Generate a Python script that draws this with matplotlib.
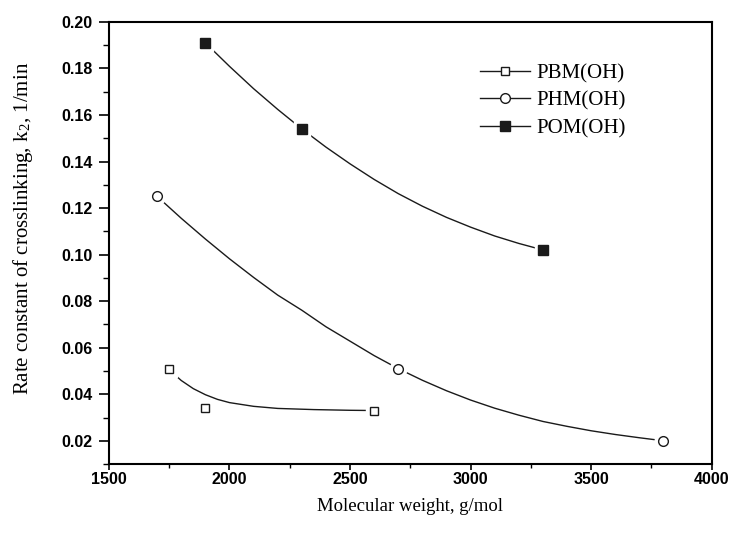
import matplotlib
matplotlib.use('Agg')
import matplotlib.pyplot as plt
from matplotlib.lines import Line2D
from matplotlib.ticker import MultipleLocator, FormatStrFormatter

# measured points
pbm_mw = [1750, 1900, 2600]
pbm_k2 = [0.051, 0.034, 0.033]
phm_mw = [1700, 2700, 3800]
phm_k2 = [0.125, 0.051, 0.020]
pom_mw = [1900, 2300, 3300]
pom_k2 = [0.191, 0.154, 0.102]

# fitted curves
pbm_fit_mw = [1750, 1775, 1800, 1850, 1900, 1950, 2000, 2100, 2200, 2350, 2500, 2600]
pbm_fit_k2 = [0.051, 0.0482, 0.0459, 0.0424, 0.0398, 0.0378, 0.0364, 0.0348, 0.0339,
	0.0334, 0.0331, 0.033]
phm_fit_mw = [1700, 1800, 1900, 2000, 2100, 2200, 2300, 2400, 2500, 2600, 2700,
	2800, 2900, 3000, 3100, 3200, 3300, 3400, 3500, 3600, 3700, 3800]
phm_fit_k2 = [0.125, 0.1156, 0.1067, 0.0982, 0.0902, 0.0826, 0.0761, 0.0690, 0.0628,
	0.0566, 0.051, 0.046, 0.0415, 0.0375, 0.034, 0.031, 0.0283, 0.0262, 0.0243,
	0.0227, 0.0213, 0.020]
pom_fit_mw = [1900, 2000, 2100, 2200, 2300, 2400, 2500, 2600, 2700, 2800, 2900,
	3000, 3100, 3200, 3300]
pom_fit_k2 = [0.191, 0.1809, 0.1713, 0.1624, 0.154, 0.1462, 0.139, 0.1323, 0.1262,
	0.1208, 0.116, 0.1118, 0.108, 0.1048, 0.102]

labels = ['PBM(OH)', 'PHM(OH)', 'POM(OH)']

plt.rcParams['mathtext.fontset'] = 'stix'

fig = plt.figure(figsize=(7.36, 5.34), dpi=100)
ax = fig.add_axes([0.148, 0.131, 0.819, 0.828])

series = [
	(pbm_mw, pbm_k2, pbm_fit_mw, pbm_fit_k2, 's', 'white', 6),
	(phm_mw, phm_k2, phm_fit_mw, phm_fit_k2, 'o', 'white', 7),
	(pom_mw, pom_k2, pom_fit_mw, pom_fit_k2, 's', '#1a1a1a', 6.5),
]
handles = []
for mw, k2, fmw, fk2, mk, fc, ms in series:
	ax.plot(fmw, fk2, color='#1a1a1a', lw=1.0, zorder=2)
	# white halo so the line stops short of the marker
	ax.plot(mw, k2, ls='none', marker=mk, ms=ms + 5, mfc='white', mec='white', zorder=3)
	ax.plot(mw, k2, ls='none', marker=mk, ms=ms, mfc=fc, mec='#1a1a1a', mew=1.0, zorder=4)
	handles.append(Line2D([], [], color='#1a1a1a', lw=1.0, marker=mk, ms=ms, mfc=fc, mec='#1a1a1a'))

leg = ax.legend(handles, labels, loc='upper left', bbox_to_anchor=(0.585, 0.948),
	frameon=False, handlelength=2.4, handletextpad=0.3, labelspacing=0.38,
	prop={'family': 'Liberation Serif', 'size': 15})

ax.set_xlim(1500, 4000)
ax.set_ylim(0.01, 0.20)
ax.xaxis.set_major_locator(MultipleLocator(500))
ax.xaxis.set_minor_locator(MultipleLocator(250))
ax.set_yticks([0.02, 0.04, 0.06, 0.08, 0.10, 0.12, 0.14, 0.16, 0.18, 0.20])
ax.yaxis.set_minor_locator(MultipleLocator(0.01))
ax.yaxis.set_major_formatter(FormatStrFormatter('%.2f'))

ax.tick_params(which='both', direction='out', labelsize=11.5)
ax.tick_params(axis='y', which='major', length=7, width=1.2, pad=5)
ax.tick_params(axis='y', which='minor', length=4, width=1.0)
ax.tick_params(axis='x', which='major', length=4, width=1.2, pad=1.5)
ax.tick_params(axis='x', which='minor', length=3, width=1.0)
for lab in ax.get_xticklabels() + ax.get_yticklabels():
	lab.set_family('Liberation Sans')
	lab.set_fontweight('bold')

for spine in ax.spines.values():
	spine.set_linewidth(1.5)

ax.set_xlabel('Molecular weight, g/mol', family='Liberation Serif', fontsize=13.5, labelpad=8)
ax.set_ylabel(r'Rate constant of crosslinking, k$_\mathregular{2}$, 1/min',
	family='Liberation Serif', fontsize=15)
ax.yaxis.set_label_coords(-0.122, 0.533)

fig.savefig('out.png', dpi=100)
